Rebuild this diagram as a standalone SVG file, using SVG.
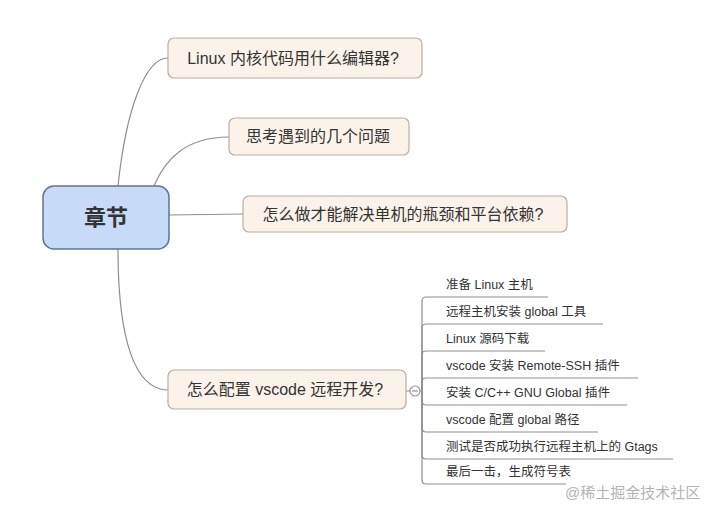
<svg xmlns="http://www.w3.org/2000/svg" width="715" height="515" viewBox="0 0 715 515">
<style>
text{font-family:"Liberation Sans","Noto Sans CJK SC",sans-serif;fill:#333}
.topic rect{fill:#fbf3ea;stroke:#b9aea4;stroke-width:1.2}
.topic text{font-size:16px;text-anchor:middle;dominant-baseline:central}
.sub text{font-size:12.5px;dominant-baseline:central}
.conn path{fill:none;stroke:#8f8f8f;stroke-width:1.2}
</style>
<rect width="715" height="515" fill="#fff"/>
<g id="connectors" class="conn">
<path d="M118,186 C126,110 145,58 168,58"/>
<path d="M154,186 C165,160 185,137 229,137"/>
<path d="M169,215 L243,214"/>
<path d="M118,249 C118,340 135,390 168,390"/>
<path d="M406,391 L410,391 M420,391 L422,391"/>
<path d="M422,391 L422,301 Q422,297 426,297 L548,297"/>
<path d="M422,391 L422,328 Q422,324 426,324 L603,324"/>
<path d="M422,391 L422,355 Q422,351 426,351 L545,351"/>
<path d="M422,391 L422,382 Q422,378 426,378 L638,378"/>
<path d="M422,391 L422,401 Q422,405 426,405 L627,405"/>
<path d="M422,391 L422,428 Q422,432 426,432 L598,432"/>
<path d="M422,391 L422,455 Q422,459 426,459 L673,459"/>
<path d="M422,391 L422,480 Q422,484 426,484 L566,484"/>
<circle cx="415" cy="391" r="5" fill="#fff" stroke="#9a9a9a" stroke-width="1.2"/>
<path d="M412,391 L418,391" stroke="#9a9a9a" stroke-width="1"/>
</g>
<g id="root">
<rect x="43" y="186" width="126" height="63" rx="11" fill="#c7dbf8" stroke="#5f7696" stroke-width="1.5"/>
<text x="106" y="217.5" font-size="22" font-weight="bold" text-anchor="middle" dominant-baseline="central" fill="#3a3a3a">章节</text>
</g>
<g id="topic1" class="topic">
<rect x="168" y="38" width="254" height="40" rx="6"/>
<text x="293" y="58">Linux 内核代码用什么编辑器?</text>
</g>
<g id="topic2" class="topic">
<rect x="229" y="118" width="180" height="37" rx="6"/>
<text x="318" y="136.5">思考遇到的几个问题</text>
</g>
<g id="topic3" class="topic">
<rect x="243" y="196" width="324" height="36" rx="6"/>
<text x="403" y="214">怎么做才能解决单机的瓶颈和平台依赖?</text>
</g>
<g id="topic4" class="topic">
<rect x="168" y="370" width="238" height="39" rx="6"/>
<text x="285" y="389.5">怎么配置 vscode 远程开发?</text>
</g>
<g id="sub1" class="sub"><text x="446" y="285">准备 Linux 主机</text></g>
<g id="sub2" class="sub"><text x="446" y="312">远程主机安装 global 工具</text></g>
<g id="sub3" class="sub"><text x="446" y="339">Linux 源码下载</text></g>
<g id="sub4" class="sub"><text x="446" y="366">vscode 安装 Remote-SSH 插件</text></g>
<g id="sub5" class="sub"><text x="446" y="393">安装 C/C++ GNU Global 插件</text></g>
<g id="sub6" class="sub"><text x="446" y="420">vscode 配置 global 路径</text></g>
<g id="sub7" class="sub"><text x="446" y="447">测试是否成功执行远程主机上的 Gtags</text></g>
<g id="sub8" class="sub"><text x="446" y="472">最后一击，生成符号表</text></g>
<text x="565" y="492" font-size="15" dominant-baseline="central" fill="#b4b4b4" style="fill:#b4b4b4">@稀土掘金技术社区</text>
</svg>
